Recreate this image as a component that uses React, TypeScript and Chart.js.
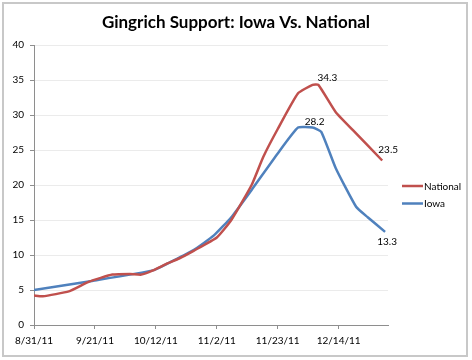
import React, { useEffect, useRef } from 'react';
import { Chart, registerables } from 'chart.js';

Chart.register(...registerables);

const TITLE = 'Gingrich Support: Iowa Vs. National';
const START_DATE = '8/31/11';
const AXIS_END_DATE = '12/31/11';

const nationalDates = ['8/31/11', '9/3/11', '9/12/11', '9/19/11', '9/27/11', '10/3/11', '10/7/11', '10/11/11', '10/16/11', '10/20/11', '10/25/11', '11/2/11', '11/7/11', '11/14/11', '11/18/11', '11/23/11', '11/30/11', '12/5/11', '12/7/11', '12/13/11', '12/19/11', '12/29/11'];
const nationalValues = [4.2, 4.1, 4.8, 6.2, 7.2, 7.3, 7.2, 7.8, 8.8, 9.5, 10.6, 12.5, 15.0, 20.0, 24.0, 28.0, 33.1, 34.3, 34.3, 30.4, 27.8, 23.5];

const iowaDates = ['8/31/11', '9/20/11', '10/11/11', '10/18/11', '10/25/11', '11/1/11', '11/7/11', '11/14/11', '11/23/11', '11/30/11', '12/5/11', '12/8/11', '12/13/11', '12/20/11', '12/24/11', '12/30/11'];
const iowaValues = [5.0, 6.3, 7.8, 9.2, 10.7, 12.8, 15.4, 19.3, 24.5, 28.2, 28.2, 27.6, 22.4, 16.9, 15.4, 13.3];

const xTickLabels = ['8/31/11', '9/21/11', '10/12/11', '11/2/11', '11/23/11', '12/14/11'];
const yMin = 0;
const yMax = 40;
const yStep = 5;

const seriesNames = ['National', 'Iowa'];
const seriesColors = ['#c0504d', '#4f81bd'];

// which points carry a value label: [series index, point index]
const labelledPoints: [number, number][] = [[0, 18], [1, 10], [0, 21], [1, 15]];

const FONT = 'Lato, "Liberation Sans", sans-serif';

const parseDate = (s: string) => {
  const [m, d, y] = s.split('/').map(Number);
  return Date.UTC(2000 + y, m - 1, d);
};
const toDay = (s: string) => Math.round((parseDate(s) - parseDate(START_DATE)) / 86400000);
const fmtDay = (day: number) => {
  const dt = new Date(parseDate(START_DATE) + day * 86400000);
  return `${dt.getUTCMonth() + 1}/${dt.getUTCDate()}/${String(dt.getUTCFullYear()).slice(2)}`;
};

const labelOffsets: Record<string, [number, number]> = {
  '0-18': [9, -7],
  '1-10': [2, -6],
  '0-21': [6, -11],
  '1-15': [2, 10],
};

const decorPlugin = {
  id: 'decor',
  beforeDraw(chart: any) {
    const { ctx, width, height } = chart;
    ctx.save();
    ctx.fillStyle = '#ffffff';
    ctx.fillRect(0, 0, width, height);
    ctx.strokeStyle = '#c8c8c8';
    ctx.lineWidth = 2;
    ctx.strokeRect(3, 3, 464, 353);
    ctx.restore();
  },
  afterDraw(chart: any) {
    const { ctx } = chart;
    ctx.save();
    // title
    ctx.fillStyle = '#000';
    ctx.font = `bold 17px ${FONT}`;
    ctx.textAlign = 'center';
    ctx.textBaseline = 'middle';
    ctx.fillText(TITLE, 236, 23);
    // legend
    ctx.font = `10px ${FONT}`;
    ctx.textAlign = 'left';
    seriesNames.forEach((name, i) => {
      const y = 186 + i * 17.5;
      ctx.strokeStyle = seriesColors[i];
      ctx.lineWidth = 2.5;
      ctx.beginPath();
      ctx.moveTo(402, y);
      ctx.lineTo(423, y);
      ctx.stroke();
      ctx.fillStyle = '#000';
      ctx.fillText(name, 424, y + 0.5);
    });
    // data labels
    ctx.textAlign = 'center';
    labelledPoints.forEach(([ds, idx]) => {
      const el = chart.getDatasetMeta(ds).data[idx];
      if (!el) return;
      const v = chart.data.datasets[ds].data[idx].y;
      const [dx, dy] = labelOffsets[`${ds}-${idx}`] || [0, -8];
      ctx.fillText(v.toFixed(1), el.x + dx, el.y + dy);
    });
    ctx.restore();
  },
};

export default function App() {
  const ref = useRef<HTMLCanvasElement | null>(null);
  useEffect(() => {
    if (!ref.current) return;
    const mk = (dates: string[], vals: number[]) => dates.map((d, i) => ({ x: toDay(d), y: vals[i] }));
    const chart = new Chart(ref.current, {
      type: 'line',
      data: {
        datasets: [
          { label: seriesNames[0], data: mk(nationalDates, nationalValues), borderColor: seriesColors[0], borderWidth: 2.5, pointRadius: 0, tension: 0.15, fill: false },
          { label: seriesNames[1], data: mk(iowaDates, iowaValues), borderColor: seriesColors[1], borderWidth: 2.5, pointRadius: 0, tension: 0.15, fill: false },
        ],
      },
      options: {
        animation: false,
        responsive: false,
        layout: { padding: { left: 8, right: 84, top: 45, bottom: 10 } },
        plugins: { legend: { display: false }, title: { display: false }, tooltip: { enabled: false } },
        scales: {
          x: {
            type: 'linear',
            min: toDay(START_DATE),
            max: toDay(AXIS_END_DATE),
            afterBuildTicks: (s: any) => { s.ticks = xTickLabels.map((l) => ({ value: toDay(l) })); },
            afterFit: (s: any) => { s.height = 25; },
            grid: { drawOnChartArea: false, tickLength: 4, tickColor: '#8e8e8e' },
            border: { color: '#8e8e8e', width: 1 },
            ticks: { padding: 6, color: '#000', font: { family: FONT, size: 10 }, maxRotation: 0, autoSkip: false, callback: (v: any) => fmtDay(Number(v)) },
          },
          y: {
            min: yMin,
            max: yMax,
            afterFit: (s: any) => { s.width = 26; },
            grid: { color: '#ebebeb', tickLength: 4, tickColor: '#8e8e8e' },
            border: { color: '#8e8e8e', width: 1 },
            ticks: { stepSize: yStep, padding: 6, color: '#000', font: { family: FONT, size: 10 } },
          },
        },
      },
      plugins: [decorPlugin],
    } as any);
    return () => chart.destroy();
  }, []);
  return (
    <div style={{ position: 'fixed', left: 0, top: 0, width: 472, height: 360, background: '#fff' }}>
      <canvas ref={ref} width={472} height={360} style={{ display: 'block' }} />
    </div>
  );
}
